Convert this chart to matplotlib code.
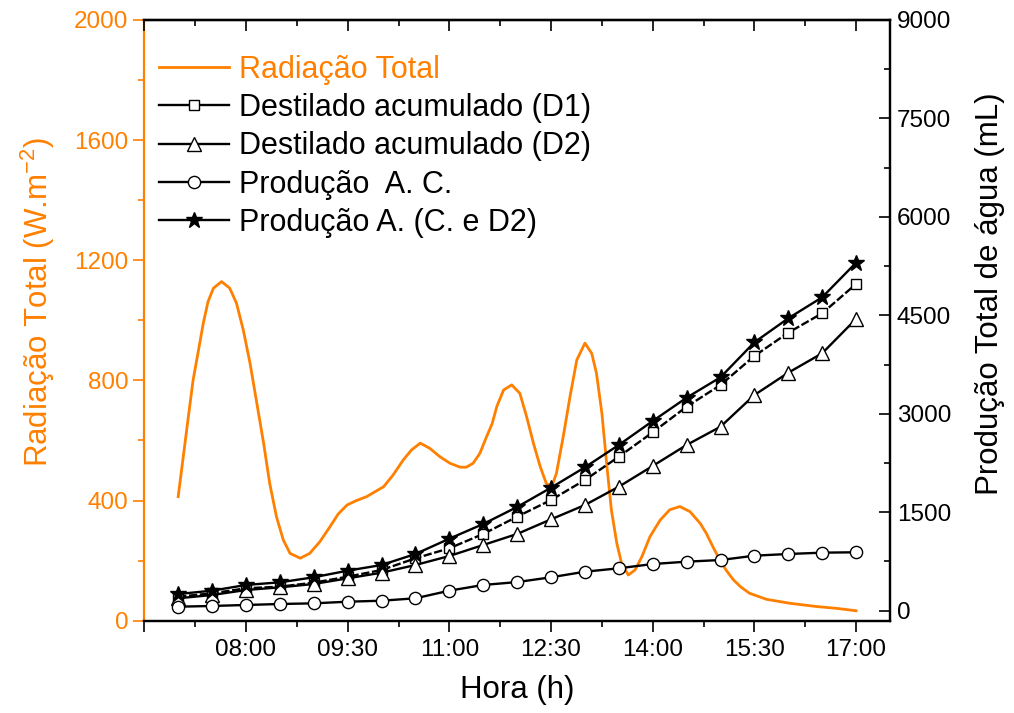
import numpy as np
import matplotlib.pyplot as plt
from matplotlib.ticker import FixedLocator, MultipleLocator, FuncFormatter
from matplotlib.lines import Line2D

plt.rcParams['font.family'] = ['Liberation Sans', 'DejaVu Sans']
plt.rcParams['mathtext.fontset'] = 'custom'
plt.rcParams['mathtext.rm'] = 'Liberation Sans'
plt.rcParams['mathtext.it'] = 'Liberation Sans:italic'

# horario das medicoes (h)
hora = [7.0, 7.5, 8.0, 8.5, 9.0, 9.5, 10.0, 10.5, 11.0, 11.5, 12.0,
        12.5, 13.0, 13.5, 14.0, 14.5, 15.0, 15.5, 16.0, 16.5, 17.0]

# producao acumulada (mL)
d1 = [213, 265, 341, 366, 427, 518, 620, 798, 951, 1169, 1432,
      1687, 1991, 2346, 2718, 3108, 3439, 3881, 4236, 4531, 4978]
d2 = [189, 239, 315, 356, 407, 493, 579, 696, 833, 1001, 1169,
      1392, 1610, 1889, 2205, 2525, 2803, 3286, 3626, 3922, 4445]
prod_ac = [61, 72, 87, 102, 112, 137, 152, 189, 305, 392, 436,
           509, 594, 646, 711, 747, 772, 838, 864, 884, 890]
prod_cd2 = [254, 305, 392, 432, 509, 610, 696, 864, 1097, 1321, 1580,
            1874, 2185, 2525, 2890, 3245, 3556, 4089, 4455, 4775, 5302]

# radiacao total (W/m2)
rad_t = [7.0, 7.075, 7.15, 7.22, 7.3, 7.37, 7.44, 7.52, 7.64, 7.76, 7.86,
         7.96, 8.06, 8.16, 8.26, 8.35, 8.45, 8.55, 8.65, 8.8, 8.94, 9.09,
         9.24, 9.36, 9.49, 9.63, 9.78, 10.03, 10.17, 10.32, 10.44, 10.57,
         10.71, 10.86, 11.01, 11.16, 11.25, 11.35, 11.45, 11.55, 11.63,
         11.7, 11.8, 11.92, 12.04, 12.14, 12.24, 12.34, 12.43, 12.51, 12.58,
         12.68, 12.78, 12.88, 13.0, 13.1, 13.17, 13.25, 13.32, 13.39, 13.47,
         13.54, 13.64, 13.74, 13.84, 13.96, 14.11, 14.25, 14.4, 14.55, 14.7,
         14.79, 14.89, 14.99, 15.09, 15.19, 15.3, 15.43, 15.68, 16.02, 16.42,
         16.71, 17.0]
rad_v = [413, 546, 679, 801, 901, 990, 1062, 1107, 1129, 1107, 1057,
         968, 857, 724, 591, 457, 346, 269, 224, 208, 224, 263,
         313, 355, 385, 400, 413, 446, 485, 535, 568, 591,
         574, 546, 524, 511, 511, 524, 557, 613, 655,
         713, 768, 785, 757, 679, 591, 513, 457, 446, 491,
         613, 746, 868, 924, 890, 824, 691, 524, 369, 258,
         191, 152, 169, 213, 280, 335, 369, 380, 363, 324,
         291, 245, 202, 166, 136, 112, 91, 71, 58, 47,
         41, 33]

orange = '#ff8000'

fig = plt.figure(figsize=(10.14, 7.13), dpi=100)
ax1 = fig.add_axes([0.1423, 0.1295, 0.7354, 0.8425])

l_rad, = ax1.plot(rad_t, rad_v, color=orange, lw=2.0, label='Radiação Total')
ax1.set_xlim(6.5, 17.5)
ax1.set_ylim(0, 2000)
ax1.yaxis.set_major_locator(MultipleLocator(400))
ax1.yaxis.set_minor_locator(MultipleLocator(200))
ax1.tick_params(axis='y', which='major', colors=orange, direction='out',
                length=8, width=1.2, labelsize=17.5)
ax1.tick_params(axis='y', which='minor', colors=orange, direction='out',
                length=4, width=1.2)
ax1.set_ylabel('Radiação Total (W.m$^{-2}$)', color=orange, fontsize=22.5)
ax1.yaxis.set_label_coords(-0.117, 0.53)

maj = np.arange(6.5, 17.6, 1.5)
ax1.xaxis.set_major_locator(FixedLocator(maj))
ax1.xaxis.set_minor_locator(FixedLocator(maj[:-1] + 0.75))


def fmt_hora(v, p):
    if v < 7:
        return ''
    h = int(v)
    m = int(round((v - h) * 60))
    return '%02d:%02d' % (h, m)


ax1.xaxis.set_major_formatter(FuncFormatter(fmt_hora))
ax1.tick_params(axis='x', which='major', direction='out', length=8, width=1.2,
                labelsize=17.5, pad=5)
ax1.tick_params(axis='x', which='minor', direction='out', length=4, width=1.2)
ax1.set_xlabel('Hora (h)', fontsize=22.5, labelpad=10)

for s in ax1.spines.values():
    s.set_linewidth(1.6)
ax1.spines['left'].set_color(orange)

ax2 = ax1.twinx()
mk = dict(mfc='white', mec='black', mew=1.0)
l_d1, = ax2.plot(hora, d1, color='black', lw=1.7, marker='s', ms=7.5,
                 dashes=(3.5, 1.1), **mk)
l_d2, = ax2.plot(hora, d2, color='black', lw=1.7, marker='^', ms=9.5, **mk)
l_ac, = ax2.plot(hora, prod_ac, color='black', lw=1.7, marker='o', ms=8.8, **mk)
l_cd, = ax2.plot(hora, prod_cd2, color='black', lw=1.7, marker='*', ms=12,
                 mfc='black', mec='black')
ax2.set_ylim(-152, 9000)
ax2.yaxis.set_major_locator(MultipleLocator(1500))
ax2.yaxis.set_minor_locator(MultipleLocator(750))
ax2.tick_params(axis='y', which='major', direction='in', length=8, width=1.2,
                labelsize=17.5, pad=5)
ax2.tick_params(axis='y', which='minor', direction='in', length=4, width=1.2)
ax2.set_ylabel('Produção Total de água (mL)', fontsize=22.5)
ax2.yaxis.set_label_coords(1.114, 0.545)
for s in ax2.spines.values():
    s.set_linewidth(1.6)
ax2.spines['left'].set_visible(False)

# ticks internos no topo
sec = ax2.secondary_xaxis('top')
sec.xaxis.set_major_locator(FixedLocator(maj))
sec.xaxis.set_minor_locator(FixedLocator(maj[:-1] + 0.75))
sec.tick_params(axis='x', which='both', direction='in', width=1.2, labeltop=False)
sec.tick_params(axis='x', which='major', length=8)
sec.tick_params(axis='x', which='minor', length=4)
sec.spines['top'].set_linewidth(1.6)

h_d1 = Line2D([], [], color='black', lw=1.7, marker='s', ms=7.5, **mk)
handles = [l_rad, h_d1, l_d2, l_ac, l_cd]
labels = ['Radiação Total', 'Destilado acumulado (D1)', 'Destilado acumulado (D2)',
          'Produção  A. C.', 'Produção A. (C. e D2)']
leg = ax2.legend(handles, labels, loc='upper left', bbox_to_anchor=(0.02, 0.942),
                 frameon=False, fontsize=22, handlelength=2.3, handletextpad=0.3,
                 labelspacing=0.27, borderpad=0, borderaxespad=0, numpoints=1)
leg.get_texts()[0].set_color(orange)

fig.savefig('out.png', dpi=100)
